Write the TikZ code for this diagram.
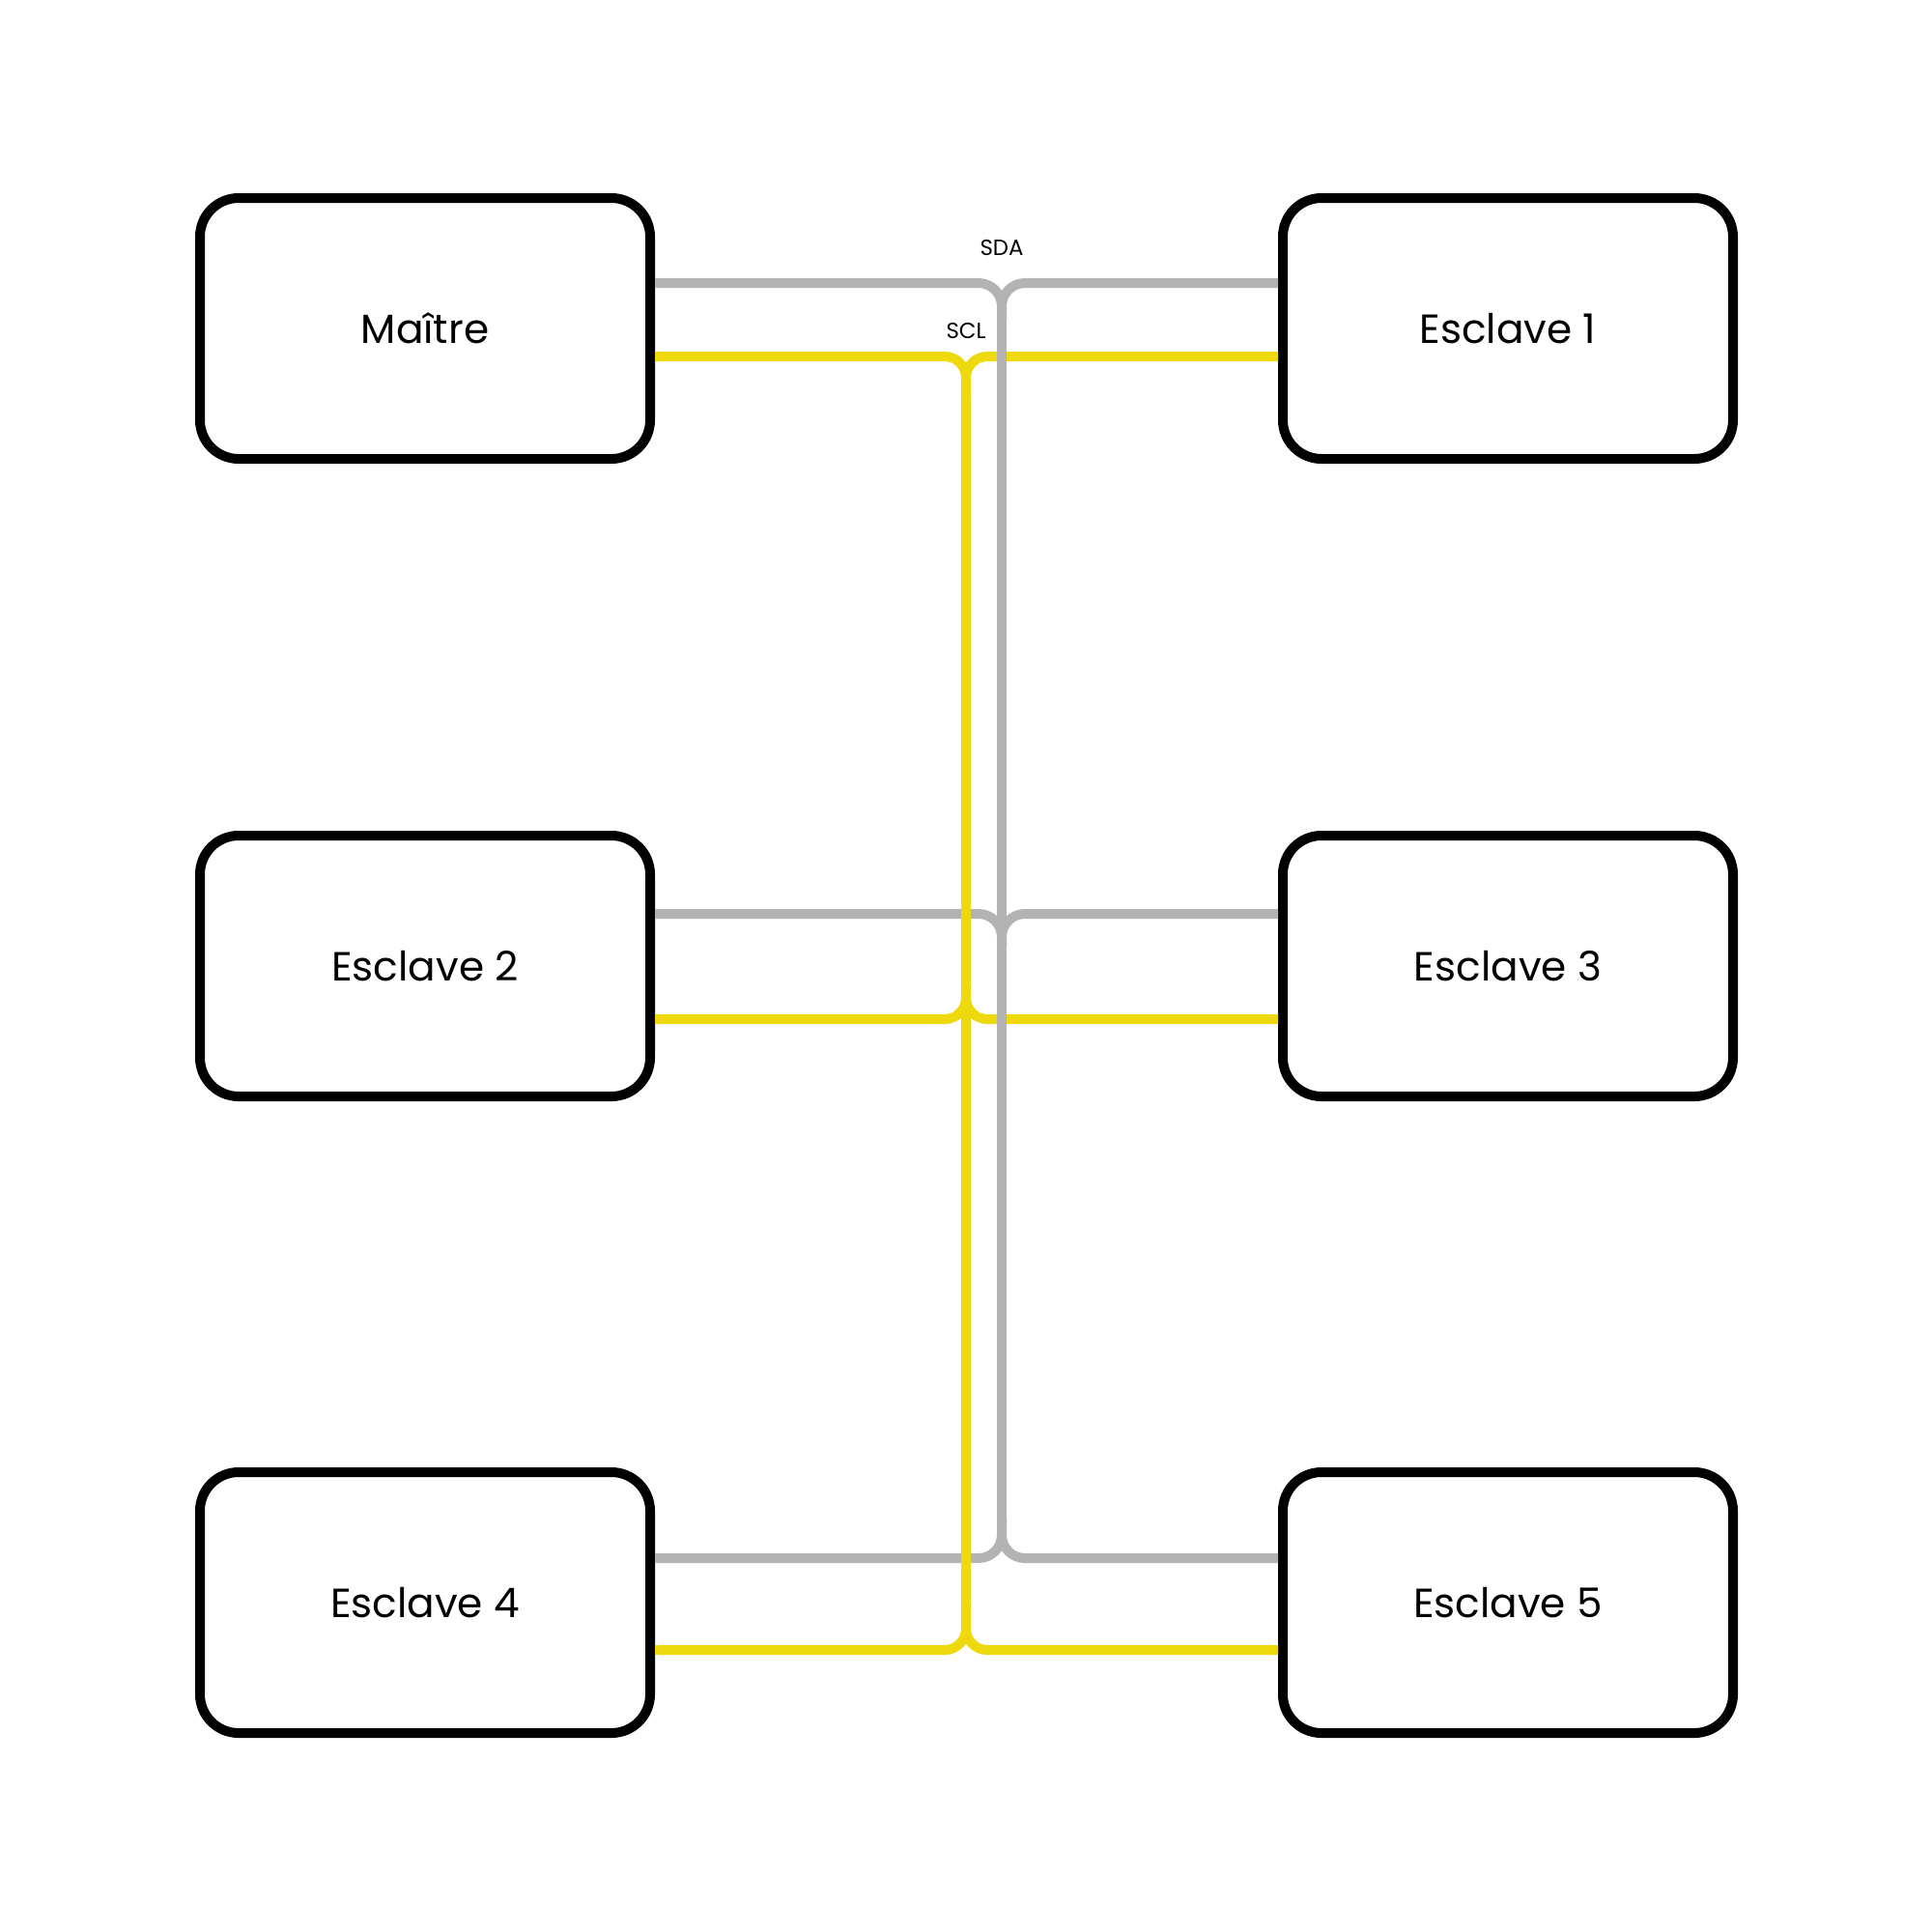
\documentclass[tikz,border=0pt]{standalone}
\usepackage{fontspec}
\setmainfont{Poppins}
\definecolor{sdagray}{RGB}{179,179,179}
\definecolor{sclyellow}{RGB}{238,217,14}
\begin{document}
\begin{tikzpicture}[x=1mm,y=-1mm,
        box/.style={draw,line width=1mm,rounded corners=4mm,minimum width=46.6mm,minimum height=27mm,font=\fontsize{12}{14}\selectfont},
        sda/.style={draw=sdagray,line width=1mm,rounded corners=2.4mm},
        scl/.style={draw=sclyellow,line width=1mm,rounded corners=2.2mm},
        buslabel/.style={font=\fontsize{6.5}{8}\selectfont}]
    \useasboundingbox (0,0) rectangle (200,200);
    % boxes
    \node[box] (maitre) at (44,34) {Maître};
    \node[box] (esc1) at (156.1,34) {Esclave 1};
    \node[box] (esc2) at (44,100) {Esclave 2};
    \node[box] (esc3) at (156.1,100) {Esclave 3};
    \node[box] (esc4) at (44,165.9) {Esclave 4};
    \node[box] (esc5) at (156.1,165.9) {Esclave 5};
    % SDA branches
    \draw[sda] ([yshift=4.7mm]maitre.east) -| (103.7,33);
    \draw[sda] ([yshift=4.7mm]esc1.west) -| (103.7,33);
    \draw[sda] ([yshift=5.4mm]esc2.east) -| (103.7,98);
    \draw[sda] ([yshift=5.4mm]esc3.west) -| (103.7,98);
    \draw[sda] ([yshift=4.6mm]esc4.east) -| (103.7,157);
    \draw[sda] ([yshift=4.6mm]esc5.west) -| (103.7,157);
    % SCL branches
    \draw[scl] ([yshift=-2.9mm]maitre.east) -| (100,41);
    \draw[scl] ([yshift=-2.9mm]esc1.west) -| (100,41);
    \draw[scl] ([yshift=-5.5mm]esc2.east) -| (100,102);
    \draw[scl] ([yshift=-5.5mm]esc3.west) -| (100,102);
    \draw[scl] ([yshift=-4.9mm]esc4.east) -| (100,166);
    \draw[scl] ([yshift=-4.9mm]esc5.west) -| (100,166);
    % trunks
    \draw[sda] (103.7,31.5) -- (103.7,159.1);
    \draw[scl] (100,38.9) -- (100,168.6);
    \node[buslabel] (sda) at (103.7,25.7) {SDA};
    \node[buslabel] (scl) at (100,34.2) {SCL};
\end{tikzpicture}
\end{document}
